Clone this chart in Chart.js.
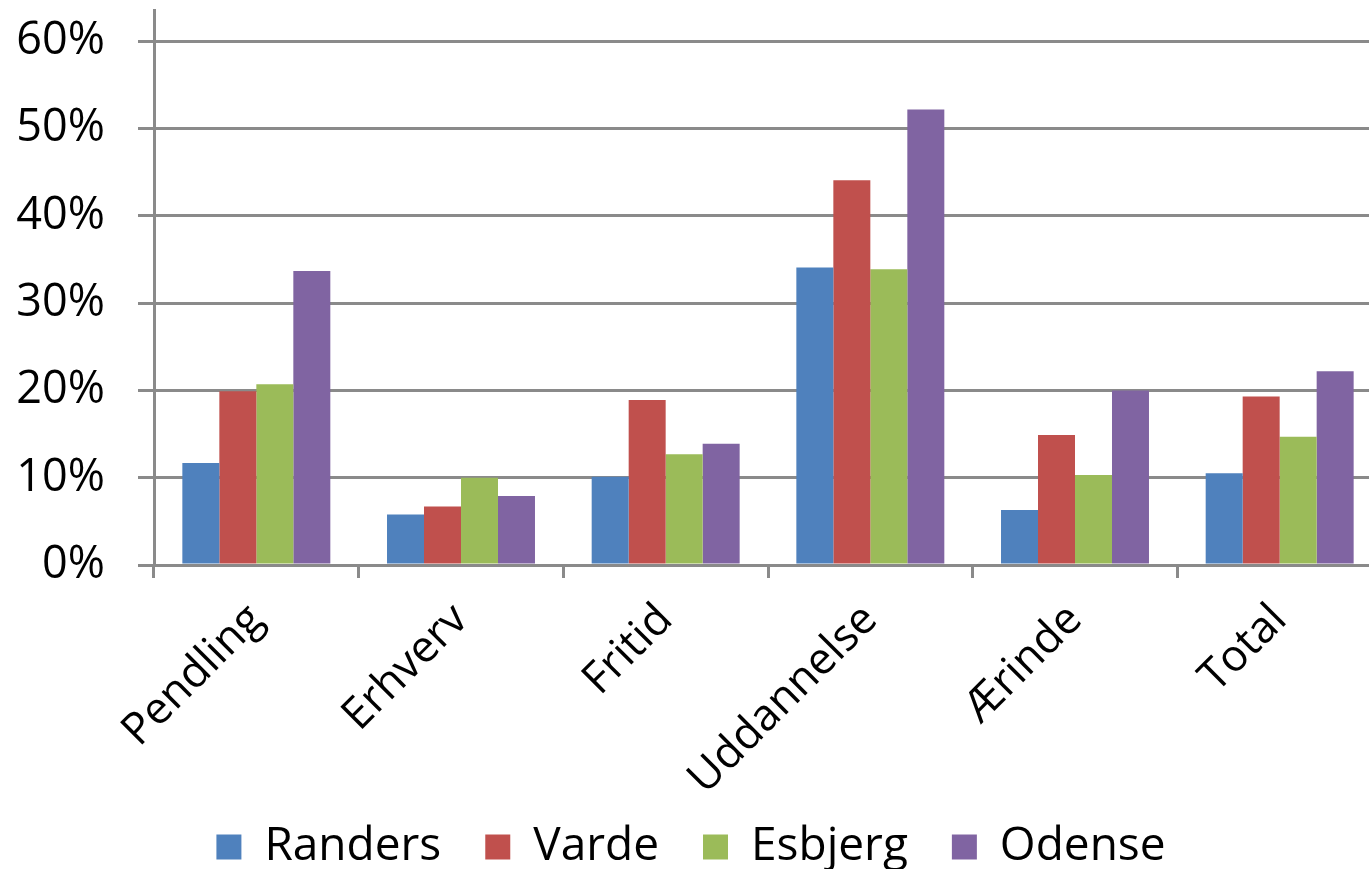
<!DOCTYPE html>
<html>
<head>
<meta charset="utf-8">
<script src="https://cdn.jsdelivr.net/npm/chart.js@4/dist/chart.umd.min.js"></script>
<style>
  html, body { margin: 0; padding: 0; background: #fff; overflow: hidden; }
  #wrap { width: 1382px; height: 869px; }
</style>
</head>
<body>
<div id="wrap"><canvas id="chart"></canvas></div>
<script>
const categories = ["Pendling", "Erhverv", "Fritid", "Uddannelse", "Ærinde", "Total"];
const seriesNames = ["Randers", "Varde", "Esbjerg", "Odense"];
const randers = [0.117, 0.058, 0.101, 0.341, 0.063, 0.105];
const varde   = [0.199, 0.067, 0.189, 0.441, 0.149, 0.193];
const esbjerg = [0.207, 0.100, 0.127, 0.339, 0.103, 0.147];
const odense  = [0.337, 0.079, 0.139, 0.522, 0.200, 0.222];
const colors = ["#4F81BD", "#C0504D", "#9BBB59", "#8064A2"];
const yTicks = [0, 0.1, 0.2, 0.3, 0.4, 0.5, 0.6];

const FONT = "'Open Sans', sans-serif";
const GRID = "#8a8a8a";

// let the rotated x labels run past the axis box instead of being cut off
const noLabelClip = {
  id: 'noLabelClip',
  beforeDraw(chart) {
    chart.scales.x._computeLabelArea = () => undefined;
  }
};

document.addEventListener("DOMContentLoaded", function () {
  const values = [randers, varde, esbjerg, odense];
  const datasets = seriesNames.map((name, i) => ({
    label: name,
    data: values[i],
    backgroundColor: colors[i],
    borderWidth: 0,
    categoryPercentage: 0.723,
    barPercentage: 1
  }));

  const ctx = document.getElementById('chart').getContext('2d');
  new Chart(ctx, {
    type: 'bar',
    data: { labels: categories, datasets: datasets },
    plugins: [noLabelClip],
    options: {
      responsive: true,
      maintainAspectRatio: false,
      animation: false,
      layout: { padding: { top: 10, left: 0, right: 0, bottom: -11 } },
      plugins: {
        tooltip: { enabled: false },
        legend: {
          position: 'bottom',
          labels: {
            color: '#000',
            font: { family: FONT, size: 46 },
            boxWidth: 25,
            boxHeight: 25,
            padding: 44
          }
        }
      },
      scales: {
        x: {
          grid: { drawOnChartArea: false, drawTicks: true, tickLength: 13, color: GRID, lineWidth: 3, offset: true },
          border: { color: GRID, width: 3 },
          ticks: {
            color: '#000',
            font: { family: FONT, size: 44 },
            minRotation: 45,
            maxRotation: 45,
            padding: 16
          },
          afterFit: s => { s.height = 215; }
        },
        y: {
          min: 0,
          max: 0.636,
          grid: { color: GRID, lineWidth: 3, tickLength: 16 },
          border: { color: GRID, width: 3 },
          ticks: {
            stepSize: 0.1,
            color: '#000',
            padding: 33,
            font: { family: FONT, size: 45 },
            callback: v => Math.round(v * 100) + '%'
          },
          afterBuildTicks: s => {
            s.ticks = yTicks.map(v => ({ value: v }));
          },
          afterFit: s => {
            s.width = 154;
            s.paddingTop = 0;
            s.paddingBottom = 0;
          }
        }
      }
    }
  });
});
</script>
</body>
</html>
